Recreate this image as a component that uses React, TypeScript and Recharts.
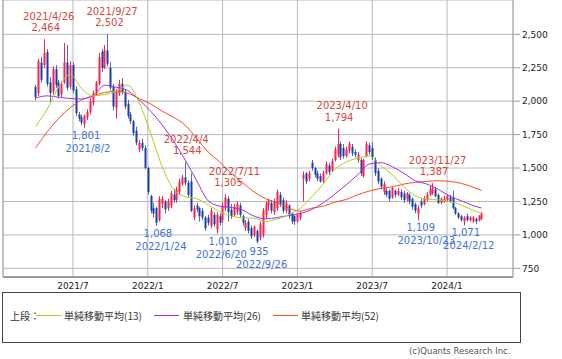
import {
  ComposedChart,
  Bar,
  Line,
  XAxis,
  YAxis,
  CartesianGrid,
  ReferenceLine,
  ReferenceDot,
} from 'recharts'

// weekly candles, first week 2021/4/5, last week 2024/3/25 (index = week number)
const OPEN = [
  2106, 2060, 2290, 2270, 2368, 2140, 2070, 2240, 2140, 2050, 2140, 2290, 2110, 2270, 2090, 1900, 1880, 1830, 1880, 1920,
  1990, 2060, 2130, 2370, 2250, 2380, 2250, 2110, 1950, 2060, 2130, 2070, 1980, 1900, 1850, 1780, 1640, 1690, 1650, 1500,
  1290, 1200, 1200, 1110, 1230, 1250, 1200, 1220, 1300, 1260, 1320, 1380, 1430, 1390, 1400, 1130, 1220, 1200, 1180, 1130,
  1130, 1070, 1150, 1040, 1140, 1110, 1200, 1270, 1190, 1150, 1170, 1220, 1140, 1050, 1100, 1050, 1000, 1030, 980, 1000,
  1150, 1220, 1240, 1170, 1200, 1300, 1260, 1180, 1220, 1160, 1140, 1100, 1130, 1420, 1460, 1420, 1540, 1500, 1460, 1440,
  1400, 1460, 1520, 1480, 1560, 1600, 1680, 1650, 1590, 1630, 1660, 1620, 1560, 1560, 1440, 1590, 1670, 1650, 1560, 1480,
  1420, 1320, 1330, 1330, 1280, 1330, 1300, 1320, 1310, 1270, 1300, 1270, 1230, 1160, 1250, 1230, 1260, 1300, 1310, 1340,
  1300, 1240, 1250, 1260, 1280, 1280, 1200, 1160, 1140, 1100, 1140, 1110, 1100, 1120, 1110, 1120,
]
const HIGH = [
  2120, 2315, 2330, 2464, 2390, 2180, 2260, 2270, 2160, 2150, 2435, 2420, 2300, 2290, 2110, 1920, 1900, 1900, 1940, 2020,
  2080, 2150, 2360, 2390, 2420, 2502, 2290, 2130, 2090, 2160, 2170, 2090, 2010, 1920, 1860, 1810, 1710, 1720, 1670, 1510,
  1300, 1240, 1210, 1290, 1290, 1260, 1270, 1330, 1340, 1360, 1420, 1450, 1544, 1410, 1460, 1220, 1240, 1210, 1200, 1140,
  1150, 1200, 1170, 1170, 1160, 1240, 1305, 1290, 1230, 1230, 1250, 1240, 1150, 1110, 1120, 1070, 1070, 1040, 1100, 1200,
  1250, 1270, 1260, 1270, 1340, 1320, 1280, 1260, 1230, 1170, 1150, 1160, 1180, 1475, 1470, 1480, 1560, 1510, 1480, 1460,
  1480, 1550, 1540, 1570, 1660, 1794, 1700, 1680, 1660, 1700, 1680, 1640, 1620, 1580, 1570, 1700, 1690, 1690, 1580, 1500,
  1430, 1400, 1350, 1340, 1360, 1340, 1350, 1340, 1330, 1320, 1310, 1280, 1240, 1220, 1270, 1290, 1320, 1370, 1387, 1360,
  1310, 1280, 1290, 1300, 1300, 1330, 1210, 1170, 1150, 1140, 1160, 1140, 1140, 1130, 1150, 1170,
]
const LOW = [
  2005, 2040, 2140, 2250, 2110, 1990, 2050, 2100, 2020, 2030, 2130, 2080, 2090, 2060, 1890, 1850, 1820, 1801, 1860, 1900,
  1970, 2040, 2120, 2220, 2240, 2260, 2080, 1930, 1870, 2040, 2050, 1940, 1870, 1830, 1740, 1670, 1620, 1630, 1490, 1300,
  1160, 1130, 1068, 1100, 1200, 1160, 1180, 1200, 1240, 1240, 1300, 1370, 1370, 1280, 1170, 1110, 1170, 1100, 1110, 1030,
  1070, 1050, 1060, 1010, 1070, 1090, 1180, 1100, 1120, 1140, 1150, 1130, 1070, 1030, 1010, 970, 985, 935, 960, 980,
  1120, 1180, 1160, 1150, 1180, 1210, 1160, 1160, 1120, 1080, 1074, 1090, 1110, 1250, 1380, 1400, 1480, 1430, 1400, 1390,
  1390, 1450, 1450, 1470, 1550, 1580, 1560, 1570, 1580, 1610, 1590, 1580, 1540, 1440, 1430, 1580, 1600, 1560, 1440, 1380,
  1340, 1300, 1280, 1250, 1270, 1280, 1290, 1260, 1240, 1250, 1230, 1190, 1160, 1109, 1200, 1220, 1250, 1290, 1300, 1280,
  1230, 1230, 1240, 1250, 1240, 1190, 1150, 1120, 1100, 1071, 1100, 1100, 1090, 1080, 1100, 1110,
]
const CLOSE = [
  2032, 2300, 2160, 2360, 2130, 2060, 2240, 2120, 2040, 2130, 2290, 2100, 2270, 2080, 1910, 1870, 1840, 1890, 1920, 2000,
  2060, 2140, 2330, 2250, 2380, 2280, 2100, 1960, 2070, 2130, 2070, 1960, 1890, 1850, 1760, 1690, 1690, 1650, 1500, 1320,
  1180, 1160, 1090, 1270, 1270, 1190, 1250, 1310, 1260, 1340, 1400, 1430, 1390, 1300, 1180, 1200, 1190, 1140, 1130, 1050,
  1090, 1180, 1080, 1150, 1090, 1220, 1280, 1170, 1140, 1210, 1230, 1150, 1090, 1090, 1030, 990, 1060, 950, 1080, 1180,
  1230, 1250, 1180, 1250, 1320, 1230, 1180, 1240, 1140, 1100, 1100, 1150, 1160, 1450, 1400, 1460, 1500, 1450, 1420, 1400,
  1460, 1530, 1470, 1550, 1640, 1680, 1580, 1590, 1640, 1680, 1610, 1600, 1600, 1460, 1560, 1680, 1620, 1580, 1460, 1400,
  1360, 1380, 1300, 1270, 1350, 1300, 1330, 1280, 1260, 1310, 1250, 1210, 1180, 1200, 1220, 1270, 1300, 1340, 1350, 1290,
  1240, 1270, 1270, 1290, 1250, 1200, 1160, 1130, 1110, 1130, 1110, 1130, 1130, 1100, 1140, 1160,
]

// moving averages read every 4 weeks
const MA_IDX = [
  0, 4, 8, 12, 16, 20, 24, 28, 32, 36, 40, 44, 48, 52, 56, 60, 64, 68, 72, 76,
  80, 84, 88, 92, 96, 100, 104, 108, 112, 116, 120, 124, 128, 132, 136, 140, 144, 148, 152, 155,
]
const MA13 = [
  1810, 1940, 2106, 2200, 2095, 2040, 2050, 2075, 2120, 1990, 1760, 1510, 1340, 1285, 1270, 1225, 1175, 1140, 1128, 1125,
  1100, 1120, 1150, 1200, 1285, 1380, 1490, 1545, 1575, 1590, 1518, 1450, 1360, 1292, 1268, 1262, 1250, 1222, 1185, 1160,
]
const MA26 = [
  2024, 2040, 2030, 2020, 2017, 2040, 2120, 2105, 2080, 2010, 1925, 1822, 1700, 1560, 1405, 1255, 1215, 1205, 1185, 1140,
  1120, 1130, 1145, 1160, 1190, 1240, 1305, 1375, 1450, 1530, 1540, 1510, 1460, 1405, 1380, 1340, 1290, 1255, 1220, 1201,
]
const MA52 = [
  1650, 1770, 1870, 1950, 2010, 2040, 2065, 2075, 2060, 2020, 1980, 1925, 1880, 1820, 1720, 1620, 1545, 1460, 1390, 1320,
  1270, 1240, 1200, 1178, 1200, 1215, 1245, 1265, 1300, 1328, 1347, 1360, 1380, 1393, 1400, 1405, 1400, 1385, 1358, 1332,
]

const TICK_IDX = [13, 39, 65, 91, 117, 143]
const TICK_LABELS = ['2021/7', '2022/1', '2022/7', '2023/1', '2023/7', '2024/1']
const Y_TICKS = [750, 1000, 1250, 1500, 1750, 2000, 2250, 2500]

type Note = { i: number; value: number; date: string; kind: 'high' | 'low'; dxDate: number; dxValue: number }
const NOTES: Note[] = [
  { i: 3, value: 2464, date: '2021/4/26', kind: 'high', dxDate: 4.5, dxValue: 1.5 },
  { i: 25, value: 2502, date: '2021/9/27', kind: 'high', dxDate: 4.5, dxValue: 2 },
  { i: 52, value: 1544, date: '2022/4/4', kind: 'high', dxDate: 1, dxValue: 2 },
  { i: 66, value: 1305, date: '2022/7/11', kind: 'high', dxDate: 9, dxValue: 3 },
  { i: 105, value: 1794, date: '2023/4/10', kind: 'high', dxDate: 4.5, dxValue: 1.5 },
  { i: 138, value: 1387, date: '2023/11/27', kind: 'high', dxDate: 5, dxValue: 1.5 },
  { i: 17, value: 1801, date: '2021/8/2', kind: 'low', dxDate: 3.5, dxValue: 1.5 },
  { i: 42, value: 1068, date: '2022/1/24', kind: 'low', dxDate: 4.5, dxValue: 1.5 },
  { i: 63, value: 1010, date: '2022/6/20', kind: 'low', dxDate: 4.5, dxValue: 6 },
  { i: 77, value: 935, date: '2022/9/26', kind: 'low', dxDate: 4.5, dxValue: 2 },
  { i: 133, value: 1109, date: '2023/10/23', kind: 'low', dxDate: 8, dxValue: 2.5 },
  { i: 149, value: 1071, date: '2024/2/12', kind: 'low', dxDate: 4.5, dxValue: 1.5 },
]

const UP = '#ff1f4b'
const DOWN = '#1e3ca8'
const DOWN_WICK = '#4a6cc8'
const HIGH_TXT = '#d4463f'
const LOW_TXT = '#3f72e0'
const MA13_COLOR = '#a8d21e'
const MA26_COLOR = '#a030e8'
const MA52_COLOR = '#ff4a1a'
const FONT = '"DejaVu Sans", sans-serif'
const CJK = '"Noto Sans CJK JP", sans-serif'

const rows = OPEN.map((o, i) => {
  const k = MA_IDX.indexOf(i)
  return {
    i,
    o,
    h: HIGH[i],
    l: LOW[i],
    c: CLOSE[i],
    ma13: k >= 0 ? MA13[k] : undefined,
    ma26: k >= 0 ? MA26[k] : undefined,
    ma52: k >= 0 ? MA52[k] : undefined,
  }
})

function Candle(props: any) {
  const { x, y, width, height, payload } = props
  if (x == null || y == null) return null
  const { o, h, l, c } = payload
  const top = Math.min(y, y + height)
  const bot = Math.max(y, y + height)
  const px = (v: number) => (h === l ? top : top + ((h - v) / (h - l)) * (bot - top))
  const cx = Math.round(x + width / 2) + 0.5
  const up = c >= o
  const bTop = px(Math.max(o, c))
  const bBot = px(Math.min(o, c))
  return (
    <g>
      <line x1={cx} x2={cx} y1={top} y2={bot} stroke={up ? UP : DOWN_WICK} strokeWidth={1} />
      <rect x={cx - 1} y={bTop} width={2} height={Math.max(1, bBot - bTop)} fill={up ? UP : DOWN} />
    </g>
  )
}

function NoteText({ cx, cy, note }: { cx: number; cy: number; note: Note }) {
  if (cx == null || cy == null) return null
  const high = note.kind === 'high'
  const v = note.value.toLocaleString('en-US')
  return (
    <g fontSize={10} fontFamily={FONT} fill={high ? HIGH_TXT : LOW_TXT} textAnchor="middle">
      <text x={cx + note.dxDate} y={high ? cy - 19.5 : cy + 24}>{note.date}</text>
      <text x={cx + note.dxValue} y={high ? cy - 8 : cy + 11}>{v}</text>
    </g>
  )
}

const X_DOMAIN: [number, number] = [-11.33, 165.94]

const legendLine = (left: number, color: string) => (
  <span
    style={{ position: 'absolute', display: 'block', left, top: 22, width: 25, height: 1, background: color }}
  />
)

export default function App() {
  return (
    <div
      style={{
        position: 'absolute',
        left: 0,
        top: 0,
        width: 562,
        height: 359,
        background: '#fff',
        fontFamily: FONT,
      }}
    >
      <ComposedChart width={562} height={300} data={rows} margin={{ top: 0, right: 4, bottom: 3, left: 3 }}>
        <CartesianGrid stroke="#b8b8b8" />
        <XAxis
          dataKey="i"
          type="number"
          domain={X_DOMAIN}
          allowDataOverflow
          ticks={TICK_IDX}
          interval={0}
          height={20}
          tickFormatter={(v) => TICK_LABELS[TICK_IDX.indexOf(v)] ?? ''}
          tick={{ fontSize: 9, fill: '#222', fontFamily: FONT }}
          tickLine={false}
          tickSize={4}
          axisLine={{ stroke: '#9a9a9a', strokeWidth: 2 }}
        />
        <YAxis
          orientation="right"
          domain={[685, 2757]}
          allowDataOverflow
          ticks={Y_TICKS}
          interval={0}
          width={45}
          tickSize={7}
          tickMargin={2}
          tickFormatter={(v) => v.toLocaleString('en-US')}
          tick={{ fontSize: 9, fill: '#222', fontFamily: FONT, textAnchor: 'start' }}
          tickLine={{ stroke: '#9a9a9a' }}
          axisLine={{ stroke: '#a8a8a8' }}
        />
        <ReferenceLine x={X_DOMAIN[0]} stroke="#a8a8a8" />
        <Bar dataKey={(d: any) => [d.l, d.h]} barSize={3} shape={Candle} isAnimationActive={false} />
        <Line dataKey="ma52" type="monotone" stroke={MA52_COLOR} strokeWidth={1} dot={false} connectNulls isAnimationActive={false} />
        <Line dataKey="ma26" type="monotone" stroke={MA26_COLOR} strokeWidth={1} dot={false} connectNulls isAnimationActive={false} />
        <Line dataKey="ma13" type="monotone" stroke={MA13_COLOR} strokeWidth={1} dot={false} connectNulls isAnimationActive={false} />
        {NOTES.map((n) => (
          <ReferenceDot
            key={n.date}
            x={n.i}
            y={n.value}
            r={0}
            ifOverflow="visible"
            shape={(p: any) => <NoteText cx={p.cx} cy={p.cy} note={n} />}
          />
        ))}
      </ComposedChart>

      <div
        style={{
          position: 'absolute',
          left: 2,
          top: 292,
          width: 517,
          height: 49,
          border: '1px solid #444',
          fontFamily: CJK,
          fontSize: 10,
          color: '#333',
        }}
      >
        <span style={{ position: 'absolute', left: 7, top: 15 }}>上段：</span>
        {legendLine(33, MA13_COLOR)}
        <span style={{ position: 'absolute', left: 61, top: 15 }}>単純移動平均(13)</span>
        {legendLine(151, MA26_COLOR)}
        <span style={{ position: 'absolute', left: 180, top: 15 }}>単純移動平均(26)</span>
        {legendLine(270, MA52_COLOR)}
        <span style={{ position: 'absolute', left: 298, top: 15 }}>単純移動平均(52)</span>
      </div>
      <div style={{ position: 'absolute', left: 409, top: 346, fontSize: 8.5, color: '#555', fontFamily: FONT }}>
        (c)Quants Research Inc.
      </div>
    </div>
  )
}
